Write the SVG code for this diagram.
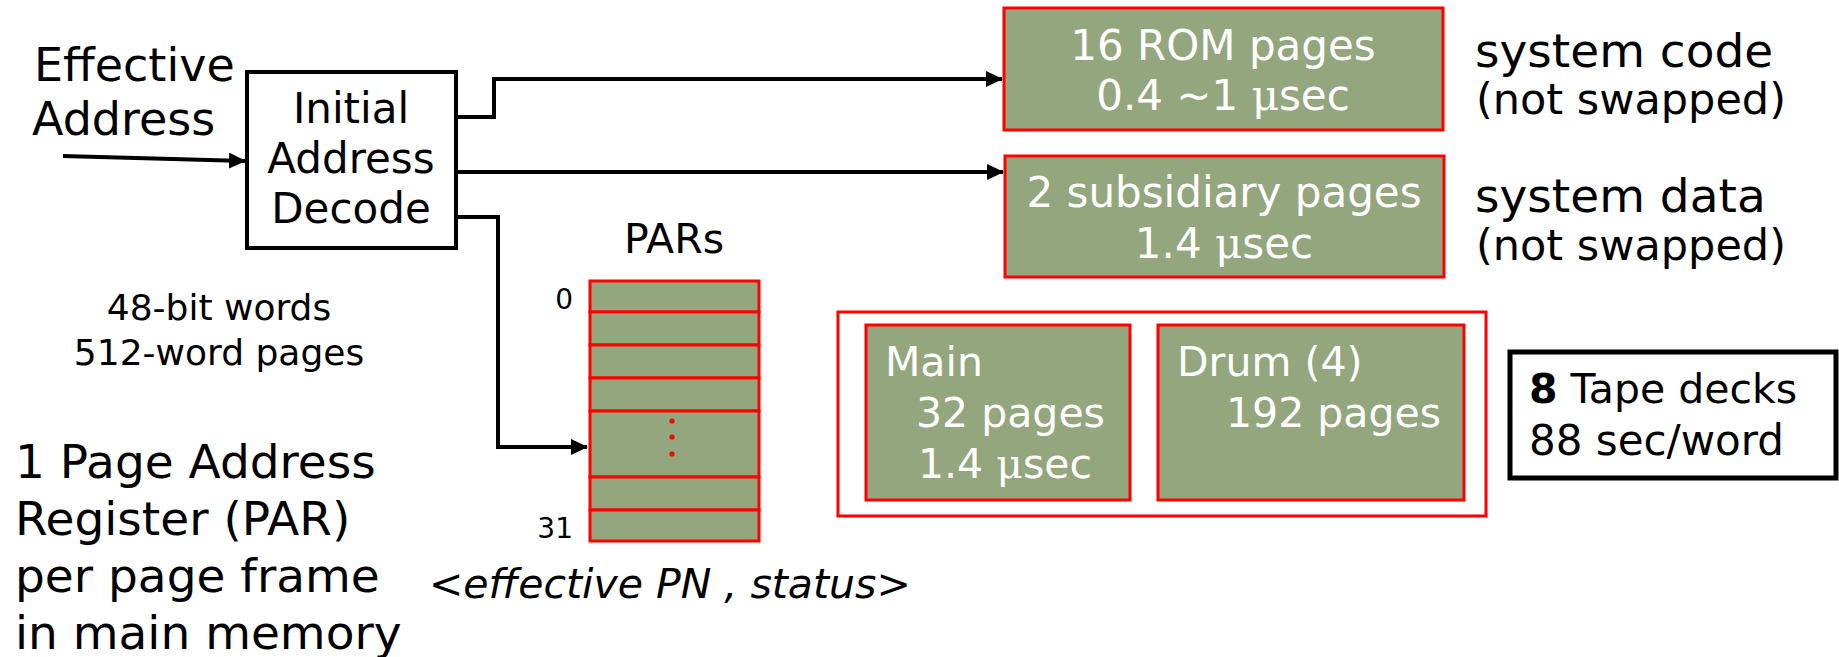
<svg xmlns="http://www.w3.org/2000/svg" width="1839" height="657" viewBox="0 0 1839 657">
<defs>
<style>
text{font-family:"DejaVu Sans","Liberation Sans",sans-serif;fill:#000}
.w{fill:#fff}
.g{fill:#93a67d;stroke:#ff0000;stroke-width:3}
.c{fill:none;stroke:#000;stroke-width:4}
.mu{font-family:"DejaVu Serif","Liberation Serif",serif}
</style>
<marker id="ah" markerUnits="userSpaceOnUse" markerWidth="18" markerHeight="16" refX="16" refY="8" orient="auto">
<path d="M0,0 L17,8 L0,16 Z" fill="#000"/>
</marker>
</defs>
<rect width="1839" height="657" fill="#fff"/>

<g id="effective-address">
<text x="34" y="81" font-size="46">Effective</text>
<text x="32" y="135" font-size="46">Address</text>
</g>

<g id="decode">
<rect x="247" y="72" width="209" height="176" fill="#fff" stroke="#000" stroke-width="4"/>
<text x="351" y="123" font-size="42" text-anchor="middle">Initial</text>
<text x="351" y="173" font-size="42" text-anchor="middle">Address</text>
<text x="351" y="223" font-size="42" text-anchor="middle">Decode</text>
</g>

<g id="connectors">
<path class="c" d="M63,156 L245,161" marker-end="url(#ah)"/>
<path class="c" d="M458,117 L494,117 L494,79 L1002,79" marker-end="url(#ah)"/>
<path class="c" d="M458,172 L1003,172" marker-end="url(#ah)"/>
<path class="c" d="M458,217 L498,217 L498,447 L587,447" marker-end="url(#ah)"/>
</g>

<g id="rom">
<rect class="g" x="1004" y="8" width="439" height="122"/>
<text class="w" x="1223" y="60" font-size="42" text-anchor="middle">16 ROM pages</text>
<text class="w" x="1223" y="110" font-size="42" text-anchor="middle">0.4 ~1 <tspan class="mu">μ</tspan>sec</text>
</g>

<g id="rom-label">
<text x="1475" y="67" font-size="47">system code</text>
<text x="1476" y="114" font-size="43">(not swapped)</text>
</g>

<g id="subsidiary">
<rect class="g" x="1005" y="156" width="439" height="121"/>
<text class="w" x="1224" y="207" font-size="42" text-anchor="middle">2 subsidiary pages</text>
<text class="w" x="1224" y="258" font-size="42" text-anchor="middle">1.4 <tspan class="mu">μ</tspan>sec</text>
</g>

<g id="subsidiary-label">
<text x="1475" y="212" font-size="47">system data</text>
<text x="1476" y="260" font-size="43">(not swapped)</text>
</g>

<g id="pars">
<text x="674" y="253" font-size="41" text-anchor="middle">PARs</text>
<rect class="g" x="590" y="281" width="169" height="31"/>
<rect class="g" x="590" y="312" width="169" height="33"/>
<rect class="g" x="590" y="345" width="169" height="33"/>
<rect class="g" x="590" y="378" width="169" height="33"/>
<rect class="g" x="590" y="411" width="169" height="66"/>
<rect class="g" x="590" y="477" width="169" height="33"/>
<rect class="g" x="590" y="510" width="169" height="31"/>
<circle cx="672" cy="421" r="2.6" fill="#ff0000"/>
<circle cx="672" cy="437" r="2.6" fill="#ff0000"/>
<circle cx="672" cy="454" r="2.6" fill="#ff0000"/>
<text x="573" y="309" font-size="28" text-anchor="end">0</text>
<text x="573" y="538" font-size="28" text-anchor="end">31</text>
</g>

<g id="par-entry">
<text x="429" y="598" font-size="41" font-style="italic">&lt;effective PN , status&gt;</text>
</g>

<g id="word-info">
<text x="219" y="320" font-size="36" text-anchor="middle">48-bit words</text>
<text x="219" y="365" font-size="36" text-anchor="middle">512-word pages</text>
</g>

<g id="par-note">
<text x="15" y="478" font-size="47">1 Page Address</text>
<text x="15" y="535" font-size="47">Register (PAR)</text>
<text x="15" y="592" font-size="47">per page frame</text>
<text x="15" y="649" font-size="47">in main memory</text>
</g>

<g id="swap-group">
<rect x="838" y="312" width="648" height="204" fill="none" stroke="#ff0000" stroke-width="3"/>
</g>

<g id="main">
<rect class="g" x="866" y="325" width="264" height="175"/>
<text class="w" x="885" y="376" font-size="41">Main</text>
<text class="w" x="916" y="427" font-size="41">32 pages</text>
<text class="w" x="918" y="478" font-size="41">1.4 <tspan class="mu">μ</tspan>sec</text>
</g>

<g id="drum">
<rect class="g" x="1158" y="325" width="306" height="175"/>
<text class="w" x="1177" y="376" font-size="41">Drum (4)</text>
<text class="w" x="1226" y="427" font-size="41">192 pages</text>
</g>

<g id="tape">
<rect x="1510" y="352" width="326" height="126" fill="#fff" stroke="#000" stroke-width="5"/>
<text x="1529" y="403" font-size="41"><tspan font-weight="bold">8</tspan> Tape decks</text>
<text x="1529" y="455" font-size="42">88 sec/word</text>
</g>
</svg>
